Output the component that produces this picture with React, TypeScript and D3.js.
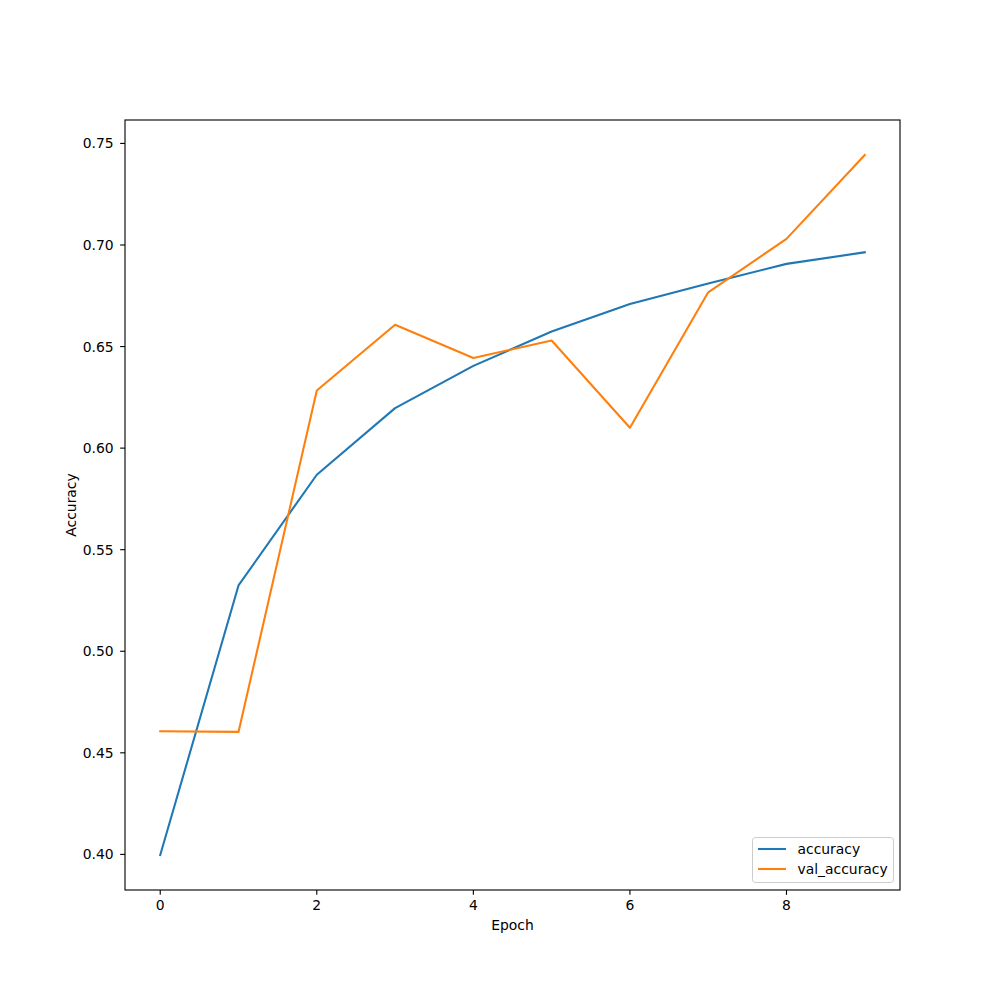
import React from "react";
import * as d3 from "d3";

const epochs = [0, 1, 2, 3, 4, 5, 6, 7, 8, 9];
const accuracy = [0.3997, 0.5324, 0.5869, 0.6197, 0.6405, 0.6574, 0.671, 0.681, 0.6907, 0.6964];
const valAccuracy = [0.4606, 0.4603, 0.6284, 0.6607, 0.6444, 0.653, 0.61, 0.6767, 0.703, 0.7443];
const xTicks = [0, 2, 4, 6, 8];
const yTicks = [0.4, 0.45, 0.5, 0.55, 0.6, 0.65, 0.7, 0.75];
const seriesNames = ["accuracy", "val_accuracy"];
const colors = ["#1f77b4", "#ff7f0e"];

const W = 1000;
const H = 1000;
const L = 125, R = 900, T = 120, B = 890;
const FONT = "DejaVu Sans, sans-serif";
const FS = 13.9;

export default function App() {
  const xMin = d3.min(epochs)!, xMax = d3.max(epochs)!;
  const xm = (xMax - xMin) * 0.05;
  const x = d3.scaleLinear().domain([xMin - xm, xMax + xm]).range([L, R]);
  const all = [...accuracy, ...valAccuracy];
  const yMin = d3.min(all)!, yMax = d3.max(all)!;
  const ym = (yMax - yMin) * 0.05;
  const y = d3.scaleLinear().domain([yMin - ym, yMax + ym]).range([B, T]);
  const line = d3.line<number>().x((_, i) => x(epochs[i])).y((d) => y(d));
  const series = [accuracy, valAccuracy];

  return (
    <svg width={W} height={H} style={{ position: "absolute", left: 0, top: 0 }} fontFamily={FONT}>
      <rect x={0} y={0} width={W} height={H} fill="#fff" />
      <g>
        {series.map((s, i) => (
          <path key={i} d={line(s)!} fill="none" stroke={colors[i]} strokeWidth={2.08} strokeLinejoin="round" strokeLinecap="square" />
        ))}
      </g>
      <rect x={L} y={T} width={R - L} height={B - T} fill="none" stroke="#000" strokeWidth={1.11} />
      {xTicks.map((t) => (
        <g key={t}>
          <line x1={x(t)} x2={x(t)} y1={B} y2={B + 4.86} stroke="#000" strokeWidth={1.11} />
          <text x={x(t)} y={B + 19.5} textAnchor="middle" fontSize={FS} fill="#000">{t}</text>
        </g>
      ))}
      {yTicks.map((t) => (
        <g key={t}>
          <line x1={L - 4.86} x2={L} y1={y(t)} y2={y(t)} stroke="#000" strokeWidth={1.11} />
          <text x={L - 11.3} y={y(t)} dy="0.36em" textAnchor="end" fontSize={FS} fill="#000">{t.toFixed(2)}</text>
        </g>
      ))}
      <text x={(L + R) / 2} y={930} textAnchor="middle" fontSize={FS} fill="#000">Epoch</text>
      <text transform={`translate(76,${(T + B) / 2}) rotate(-90)`} textAnchor="middle" fontSize={FS} fill="#000">Accuracy</text>
      <g>
        <rect x={752.5} y={837.5} width={141} height={45} rx={3} ry={3} fill="#fff" fillOpacity={0.8} stroke="#cccccc" strokeWidth={1} />
        {seriesNames.map((n, i) => (
          <g key={n}>
            <line x1={758} x2={786} y1={849 + i * 20} y2={849 + i * 20} stroke={colors[i]} strokeWidth={2.08} />
            <text x={797.5} y={849 + i * 20} dy="0.36em" fontSize={FS} fill="#000">{n}</text>
          </g>
        ))}
      </g>
    </svg>
  );
}
